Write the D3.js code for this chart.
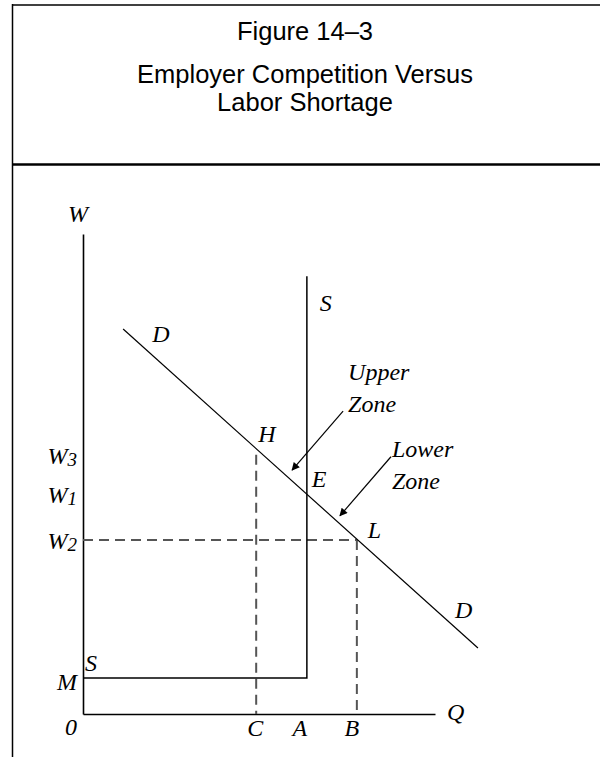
<!DOCTYPE html>
<html>
<head>
<meta charset="utf-8">
<script src="https://cdn.jsdelivr.net/npm/d3@7"></script>
<style>
  html, body { margin: 0; padding: 0; background: #fff; }
  svg { display: block; }
</style>
</head>
<body>
<svg id="chart" width="600" height="757"></svg>
<script>
// ---------- data ----------
const titleLines = ["Figure 14\u20133", "Employer Competition Versus", "Labor Shortage"];

// quantity points on the Q axis
const qNames  = ["C", "A", "B"];
const qValues = [49.2, 63.6, 77.8];

// wage levels on the W axis
const wNames  = ["M", "W2", "W1", "W3"];
const wValues = [7.5, 36.25, 45.8, 54];

// demand curve D (endpoints, Q and W)
const demandQ = [11.4, 112.2];
const demandW = [80.2, 13.75];

// supply curve S (kinked: flat at M up to A, then vertical)
const supplyQ = [0, 63.6, 63.6];
const supplyW = [7.5, 7.5, 91.2];

// arrow tips pointing at the two zones
const zoneNames = ["Upper", "Lower"];
const zoneTipQ  = [59.4, 73.0];
const zoneTipW  = [50.8, 41.3];

// ---------- setup ----------
const svg = d3.select("#chart");
const x = d3.scaleLinear().domain([0, 100]).range([83, 435]);
const y = d3.scaleLinear().domain([0, 100]).range([714, 234]);

const serif = "'Liberation Serif', 'Times New Roman', Times, serif";
const sans  = "'Liberation Sans', Arial, Helvetica, sans-serif";

// ---------- frame ----------
svg.append("line").attr("x1", 12.5).attr("x2", 12.5).attr("y1", 4).attr("y2", 757)
  .attr("stroke", "#000").attr("stroke-width", 1.5);
svg.append("line").attr("x1", 12).attr("x2", 600).attr("y1", 5).attr("y2", 5)
  .attr("stroke", "#000").attr("stroke-width", 1.5);
svg.append("line").attr("x1", 12).attr("x2", 600).attr("y1", 164.5).attr("y2", 164.5)
  .attr("stroke", "#000").attr("stroke-width", 2.5);

// ---------- title ----------
const titleBase = [40, 83, 111];
svg.selectAll("text.title").data(titleLines).join("text")
  .attr("class", "title")
  .attr("x", 305).attr("y", (d, i) => titleBase[i])
  .attr("text-anchor", "middle")
  .attr("font-family", sans).attr("font-size", 25.5)
  .attr("fill", "#000")
  .text(d => d);

// ---------- axes ----------
const gY = svg.append("g").attr("transform", `translate(${x(0)},0)`)
  .call(d3.axisLeft(y).tickValues([]).tickSizeOuter(0));
const gX = svg.append("g").attr("transform", `translate(0,${y(0)})`)
  .call(d3.axisBottom(x).tickValues([]).tickSizeOuter(0));
[gY, gX].forEach(g => g.select(".domain").attr("stroke", "#000").attr("stroke-width", 1.6));

// ---------- dashed guides ----------
const dash = g => g.attr("stroke", "#555").attr("stroke-width", 2)
  .attr("stroke-dasharray", "10,6").attr("fill", "none");
const iC = qNames.indexOf("C"), iB = qNames.indexOf("B");
const iW2 = wNames.indexOf("W2"), iW3 = wNames.indexOf("W3");
// W2 horizontal to L
svg.append("line")
  .attr("x1", x(0)).attr("x2", x(qValues[iB]))
  .attr("y1", y(wValues[iW2])).attr("y2", y(wValues[iW2])).call(dash);
// B vertical from L
svg.append("line")
  .attr("x1", x(qValues[iB])).attr("x2", x(qValues[iB]))
  .attr("y1", y(wValues[iW2])).attr("y2", y(0)).call(dash);
// C vertical from H
svg.append("line")
  .attr("x1", x(qValues[iC])).attr("x2", x(qValues[iC]))
  .attr("y1", y(wValues[iW3])).attr("y2", y(0)).call(dash);

// ---------- supply ----------
const line = d3.line().x(d => x(d[0])).y(d => y(d[1]));
svg.append("path")
  .attr("d", line(d3.zip(supplyQ, supplyW)))
  .attr("fill", "none").attr("stroke", "#000").attr("stroke-width", 1.5);

// ---------- demand ----------
svg.append("path")
  .attr("d", line(d3.zip(demandQ, demandW)))
  .attr("fill", "none").attr("stroke", "#000").attr("stroke-width", 1.2);

// ---------- arrows ----------
svg.append("defs").append("marker")
  .attr("id", "ah").attr("viewBox", "0 0 10 10")
  .attr("refX", 9).attr("refY", 5)
  .attr("markerWidth", 10).attr("markerHeight", 8)
  .attr("markerUnits", "userSpaceOnUse")
  .attr("orient", "auto")
  .append("path").attr("d", "M0,0 L10,5 L0,10 Z").attr("fill", "#000");

zoneNames.forEach((name, i) => {
  const tx = x(zoneTipQ[i]), ty = y(zoneTipW[i]);
  const sx = tx + 51, sy = ty - 59;
  svg.append("line")
    .attr("x1", sx).attr("y1", sy).attr("x2", tx).attr("y2", ty)
    .attr("stroke", "#000").attr("stroke-width", 1.2)
    .attr("marker-end", "url(#ah)");
  const t = svg.append("text")
    .attr("font-family", serif).attr("font-style", "italic")
    .attr("font-size", 24).attr("fill", "#000");
  const lx = i === 0 ? sx + 5 : sx + 1;
  const ly = i === 0 ? sy - 31 : sy;
  t.append("tspan").attr("x", lx).attr("y", ly).text(name);
  t.append("tspan").attr("x", lx).attr("y", ly + 32).text("Zone");
});

// ---------- labels ----------
const lab = (txt, px, py, anchor) => svg.append("text")
  .attr("x", px).attr("y", py)
  .attr("text-anchor", anchor || "start")
  .attr("font-family", serif).attr("font-style", "italic")
  .attr("font-size", 24).attr("fill", "#000")
  .text(txt);

// axis titles
lab("W", x(0) - 15, y(100) - 12);
lab("Q", x(100) + 12, y(0) + 6);
lab("0", x(0) - 18, y(0) + 21);

// Q axis points (small per-letter nudges as in the original)
const qNudge = { C: -1, A: -7, B: -5 };
qNames.forEach((n, i) => lab(n, x(qValues[i]) + qNudge[n], y(0) + 22, "middle"));

// W axis levels (with subscripts)
wNames.forEach((n, i) => {
  const extra = n === "M" ? 12 : 9;
  const t = lab("", x(0) - 6, y(wValues[i]) + extra, "end");
  t.append("tspan").text(n[0]);
  if (n.length > 1) t.append("tspan").attr("font-size", 19).attr("dy", 2).text(n.slice(1));
});

// curve labels and points
const iA = qNames.indexOf("A"), iW1 = wNames.indexOf("W1"), iM = wNames.indexOf("M");
lab("S", x(qValues[iA]) + 13, y(supplyW[2]) + 35);
lab("S", x(0) + 2, y(wValues[iM]) - 7);
lab("D", x(demandQ[0]) + 29, y(demandW[0]) + 13);
lab("D", x(demandQ[1]) - 23, y(demandW[1]) - 30);
lab("H", x(qValues[iC]) + 2, y(wValues[iW3]) - 13);
lab("E", x(qValues[iA]) + 5, y(wValues[iW1]) - 7);
lab("L", x(qValues[iB]) + 11, y(wValues[iW2]) - 2);
</script>
</body>
</html>
